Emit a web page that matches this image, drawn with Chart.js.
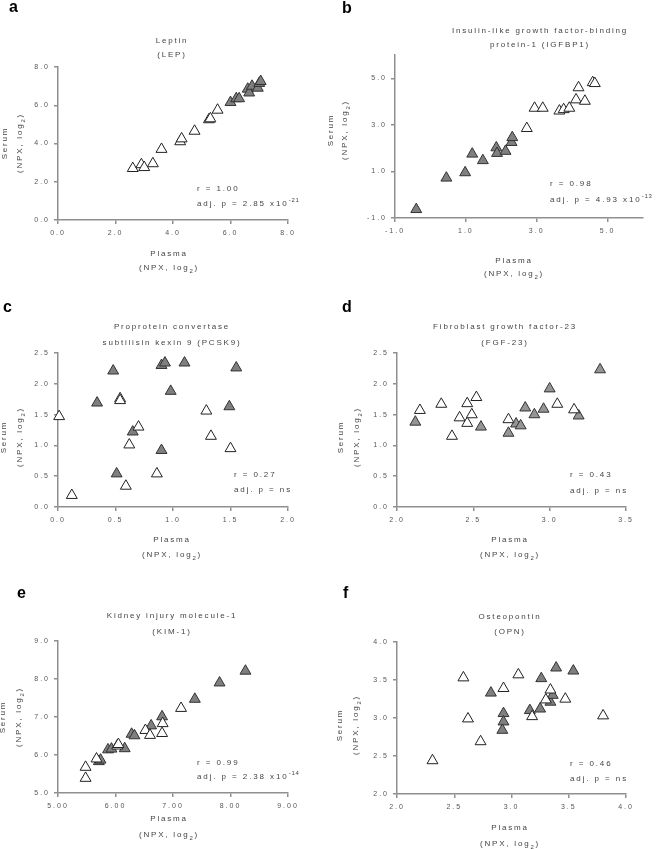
<!DOCTYPE html>
<html>
<head>
<meta charset="utf-8">
<script src="https://cdn.jsdelivr.net/npm/chart.js@4.4.1/dist/chart.umd.min.js"></script>
<style>
  body { margin: 0; background: #fff; }
  canvas { position: absolute; left: 0; top: 0; }
</style>
</head>
<body>
<canvas id="pa" width="658" height="849"></canvas>
<canvas id="pb" width="658" height="849"></canvas>
<canvas id="pc" width="658" height="849"></canvas>
<canvas id="pd" width="658" height="849"></canvas>
<canvas id="pe" width="658" height="849"></canvas>
<canvas id="pf" width="658" height="849"></canvas>
<script>
// ---- data: [plasma, serum] pairs ----
const lepWhite = [[2.6,2.7],[2.9,2.9],[3.0,2.75],[3.3,2.95],[3.6,3.7],[4.25,4.1],[4.3,4.25],[4.75,4.65],[5.25,5.25],[5.3,5.3],[5.55,5.75]];
const lepGrey  = [[6.0,6.15],[6.2,6.35],[6.3,6.35],[6.6,6.85],[6.65,6.65],[6.75,7.0],[6.95,6.9],[7.0,7.15],[7.05,7.25]];

const igfWhite = [[2.72,2.85],[2.94,3.72],[3.17,3.72],[3.64,3.6],[3.76,3.66],[3.92,3.72],[4.11,4.08],[4.18,4.6],[4.36,4.02],[4.58,4.82],[4.64,4.78]];
const igfGrey  = [[-0.4,-0.63],[0.45,0.72],[0.98,0.95],[1.18,1.75],[1.48,1.47],[1.86,2.02],[1.88,1.78],[2.12,1.87],[2.29,2.25],[2.31,2.46]];

const pcsWhite = [[0.01,1.47],[0.12,0.19],[0.54,1.76],[0.54,1.73],[0.62,1.01],[0.59,0.34],[0.7,1.3],[0.86,0.54],[1.29,1.56],[1.33,1.15],[1.5,0.95]];
const pcsGrey  = [[0.48,2.21],[0.34,1.69],[0.51,0.54],[0.65,1.22],[0.9,2.3],[0.93,2.34],[0.9,0.92],[0.98,1.88],[1.1,2.34],[1.49,1.63],[1.55,2.26]];

const fgfWhite = [[2.15,1.57],[2.29,1.67],[2.36,1.15],[2.41,1.45],[2.46,1.68],[2.46,1.36],[2.49,1.5],[2.52,1.78],[2.73,1.42],[3.05,1.67],[3.16,1.58]];
const fgfGrey  = [[2.12,1.38],[2.55,1.3],[2.73,1.2],[2.78,1.35],[2.81,1.32],[2.84,1.61],[2.9,1.5],[2.96,1.59],[3.0,1.92],[3.19,1.48],[3.33,2.23]];

const kimWhite = [[5.48,5.68],[5.48,5.39],[5.67,5.9],[6.03,6.24],[6.05,6.28],[6.52,6.65],[6.6,6.52],[6.81,6.57],[6.82,6.83],[7.14,7.23]];
const kimGrey  = [[5.71,5.83],[5.74,5.87],[5.87,6.14],[5.93,6.16],[6.16,6.17],[6.28,6.55],[6.33,6.51],[6.62,6.77],[6.81,7.01],[7.38,7.47],[7.81,7.9],[8.26,8.21]];

const opnWhite = [[2.31,2.44],[2.58,3.53],[2.62,2.99],[2.73,2.69],[2.93,3.39],[3.06,3.57],[3.18,3.02],[3.3,3.24],[3.34,3.37],[3.47,3.25],[3.8,3.03]];
const opnGrey  = [[2.82,3.33],[2.93,3.06],[2.93,2.95],[2.92,2.84],[3.16,3.1],[3.25,3.12],[3.26,3.52],[3.34,3.21],[3.36,3.3],[3.39,3.66],[3.54,3.62]];

// tick labels
const ticksA = [0, 2, 4, 6, 8];
const ticksB = [-1, 1, 3, 5];
const ticksC = [0, 0.5, 1, 1.5, 2, 2.5];
const ticksDx = [2, 2.5, 3, 3.5];
const ticksE = [5, 6, 7, 8, 9];
const ticksF = [2, 2.5, 3, 3.5, 4];

// titles and stats
const titles = {
  a: ['Leptin', '(LEP)'],
  b: ['Insulin-like growth factor-binding', 'protein-1 (IGFBP1)'],
  c: ['Proprotein convertase', 'subtilisin kexin 9 (PCSK9)'],
  d: ['Fibroblast growth factor-23', '(FGF-23)'],
  e: ['Kidney injury molecule-1', '(KIM-1)'],
  f: ['Osteopontin', '(OPN)']
};
const stats = {
  a: ['r = 1.00', 'adj. p = 2.85 x10', '-21'],
  b: ['r = 0.98', 'adj. p = 4.93 x10', '-13'],
  c: ['r = 0.27', 'adj. p = ns', ''],
  d: ['r = 0.43', 'adj. p = ns', ''],
  e: ['r = 0.99', 'adj. p = 2.38 x10', '-14'],
  f: ['r = 0.46', 'adj. p = ns', '']
};

// ---- layout (page pixels) ----
const panels = [
  { id: 'pa', key: 'a', white: lepWhite, grey: lepGrey, area: [58, 288, 67, 220], x: [0, 8], y: [0, 8],
    xt: ticksA, yt: ticksA, xd: 1, yd: 1, letterAt: [9, 12], titleAt: [172, 41, 55],
    plasmaAt: [169, 254, 268], serumAt: [5, 20, 143], statAt: [197, 189, 204] },
  { id: 'pb', key: 'b', white: igfWhite, grey: igfGrey, area: [395, 643, 55, 218], x: [-1, 6], y: [-1, 6],
    xt: ticksB, yt: ticksB, xd: 1, yd: 1, letterAt: [342, 13], titleAt: [540, 31, 45],
    plasmaAt: [514, 261, 274], serumAt: [331, 345, 130], statAt: [550, 184, 200] },
  { id: 'pc', key: 'c', white: pcsWhite, grey: pcsGrey, area: [58, 288, 353, 507], x: [0, 2], y: [0, 2.5],
    xt: ticksC.slice(0, 5), yt: ticksC, xd: 1, yd: 1, letterAt: [3, 312], titleAt: [172, 327, 343],
    plasmaAt: [172, 540, 555], serumAt: [4, 20, 437], statAt: [234, 475, 490] },
  { id: 'pd', key: 'd', white: fgfWhite, grey: fgfGrey, area: [397, 626, 353, 507], x: [2, 3.5], y: [0, 2.5],
    xt: ticksDx, yt: ticksC, xd: 1, yd: 1, letterAt: [342, 312], titleAt: [505, 327, 343],
    plasmaAt: [510, 540, 555], serumAt: [341, 357, 437], statAt: [570, 475, 491] },
  { id: 'pe', key: 'e', white: kimWhite, grey: kimGrey, area: [58, 288, 641, 793], x: [5, 9], y: [5, 9],
    xt: ticksE, yt: ticksE, xd: 2, yd: 1, letterAt: [17, 598], titleAt: [172, 616, 632],
    plasmaAt: [169, 819, 835], serumAt: [3, 19, 717], statAt: [197, 763, 777] },
  { id: 'pf', key: 'f', white: opnWhite, grey: opnGrey, area: [397, 626, 642, 794], x: [2, 4], y: [2, 4],
    xt: ticksF, yt: ticksF, xd: 1, yd: 1, letterAt: [343, 598], titleAt: [510, 617, 632],
    plasmaAt: [510, 828, 844], serumAt: [340, 356, 725], statAt: [570, 764, 779] }
];

const FONT = '"Liberation Sans", Arial, sans-serif';
const W = 658, H = 849, YW = 40, XH = 30;

// draw a line of text made of segments, some raised or lowered
function drawRich(ctx, segs, x, y, align) {
  const base = ctx.letterSpacing;
  let total = 0;
  segs.forEach(s => {
    ctx.font = s.size + 'px ' + FONT;
    ctx.letterSpacing = s.sp || base;
    s.w = ctx.measureText(s.t).width;
    total += s.w;
  });
  let cx = align === 'center' ? x - total / 2 : x;
  ctx.textAlign = 'left';
  segs.forEach(s => {
    ctx.font = s.size + 'px ' + FONT;
    ctx.letterSpacing = s.sp || base;
    ctx.fillText(s.t, cx, y + (s.dy || 0));
    cx += s.w;
  });
  ctx.letterSpacing = base;
}

function npxLabel() {
  return [{ t: '(NPX, log', size: 8 }, { t: '2', size: 6, dy: 3 }, { t: ')', size: 8 }];
}

const panelText = {
  id: 'panelText',
  beforeDraw(chart) {
    chart.ctx.letterSpacing = '2px';
  },
  afterDraw(chart, args, opts) {
    const p = opts.panel;
    const ctx = chart.ctx;
    ctx.save();

    // panel letter
    ctx.letterSpacing = '0px';
    ctx.fillStyle = '#000';
    ctx.textBaseline = 'alphabetic';
    ctx.textAlign = 'left';
    ctx.font = 'bold 16px ' + FONT;
    ctx.fillText(p.key, p.letterAt[0], p.letterAt[1]);

    ctx.textBaseline = 'middle';
    ctx.fillStyle = '#444';
    ctx.letterSpacing = '1.8px';
    // title
    const t = titles[p.key];
    drawRich(ctx, [{ t: t[0], size: 8 }], p.titleAt[0], p.titleAt[1], 'center');
    drawRich(ctx, [{ t: t[1], size: 8 }], p.titleAt[0], p.titleAt[2], 'center');

    // x axis title
    drawRich(ctx, [{ t: 'Plasma', size: 8 }], p.plasmaAt[0], p.plasmaAt[1], 'center');
    drawRich(ctx, npxLabel(), p.plasmaAt[0], p.plasmaAt[2], 'center');

    // y axis title
    ctx.save();
    ctx.translate(p.serumAt[0], p.serumAt[2]);
    ctx.rotate(-Math.PI / 2);
    drawRich(ctx, [{ t: 'Serum', size: 8 }], 0, 0, 'center');
    ctx.restore();
    ctx.save();
    ctx.translate(p.serumAt[1], p.serumAt[2]);
    ctx.rotate(-Math.PI / 2);
    drawRich(ctx, npxLabel(), 0, 0, 'center');
    ctx.restore();

    // stats
    const s = stats[p.key];
    ctx.letterSpacing = '1.9px';
    drawRich(ctx, [{ t: s[0], size: 8 }], p.statAt[0], p.statAt[1], 'left');
    drawRich(ctx, [{ t: s[1], size: 8 }, { t: s[2], size: 6, dy: -4, sp: '0.8px' }], p.statAt[0], p.statAt[2], 'left');
    ctx.restore();
  }
};

function axis(range, vals, dec, isX) {
  return {
    type: 'linear',
    min: range[0],
    max: range[1],
    afterBuildTicks: a => { a.ticks = vals.map(v => ({ value: v })); },
    afterFit: a => { if (isX) a.height = XH; else a.width = YW; },
    border: { display: true, color: '#8f8f8f', width: 1.5 },
    grid: { display: true, drawOnChartArea: false, drawTicks: true, tickLength: 4, color: '#8f8f8f', lineWidth: 1.5 },
    ticks: {
      autoSkip: false, maxRotation: 0, padding: isX ? 5 : 4,
      color: '#555', font: { family: FONT, size: 7 },
      callback: v => Number(v).toFixed(dec)
    }
  };
}

panels.forEach(p => {
  const greyFill = p.key === 'd' ? '#959595' : '#7f7f7f';
  const pts = arr => arr.map(d => ({ x: d[0], y: d[1] }));
  new Chart(document.getElementById(p.id), {
    type: 'scatter',
    data: {
      datasets: [
        { data: pts(p.white), pointStyle: 'triangle', pointRadius: 6.3, backgroundColor: '#fff',
          borderColor: '#222', borderWidth: 1, clip: false },
        { data: pts(p.grey), pointStyle: 'triangle', pointRadius: 6.3, backgroundColor: greyFill,
          borderColor: '#333', borderWidth: 1, clip: false }
      ]
    },
    options: {
      responsive: false,
      animation: false,
      events: [],
      layout: {
        padding: { left: p.area[0] - YW, right: W - p.area[1], top: p.area[2], bottom: H - p.area[3] - XH }
      },
      scales: {
        x: axis(p.x, p.xt, p.xd, true),
        y: axis(p.y, p.yt, p.yd, false)
      },
      plugins: {
        legend: { display: false },
        tooltip: { enabled: false },
        panelText: { panel: p }
      }
    },
    plugins: [panelText]
  });
});
</script>
</body>
</html>
